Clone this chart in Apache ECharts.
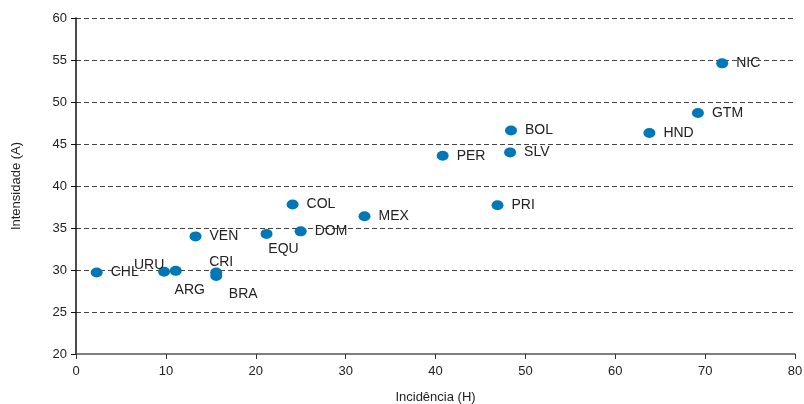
<!DOCTYPE html>
<html>
<head>
<meta charset="utf-8">
<script src="https://cdn.jsdelivr.net/npm/echarts@6/dist/echarts.min.js"></script>
<style>
html,body{margin:0;padding:0;background:#fff;}
#chart{width:804px;height:404px;}
</style>
</head>
<body>
<div id="chart"></div>
<script>
var countries = ['CHL','URU','ARG','CRI','BRA','VEN','EQU','DOM','COL','MEX','PRI','PER','SLV','BOL','HND','GTM','NIC'];
var incidencia = [2.3, 9.8, 11.1, 15.6, 15.6, 13.3, 21.2, 25.0, 24.1, 32.1, 46.9, 40.8, 48.3, 48.4, 63.8, 69.2, 71.9];
var intensidade = [29.7, 29.8, 29.9, 29.7, 29.3, 34.0, 34.3, 34.6, 37.8, 36.4, 37.7, 43.6, 44.0, 46.6, 46.3, 48.7, 54.6];
var xTicks = [0, 10, 20, 30, 40, 50, 60, 70, 80];
var yTicks = [20, 25, 30, 35, 40, 45, 50, 55, 60];

// label placement (styling only)
var labelOffsets = {
  URU: [-15, -7],
  ARG: [14, 19],
  CRI: [5, -10],
  BRA: [27, 18],
  EQU: [17, 15]
};

var data = countries.map(function (c, i) {
  var item = { name: c, value: [incidencia[i], intensidade[i]] };
  var o = labelOffsets[c];
  if (o) {
    item.label = { position: 'inside', offset: [o[0], o[1]], align: 'center' };
  }
  return item;
});

var chart = echarts.init(document.getElementById('chart'));
chart.setOption({
  animation: false,
  textStyle: { fontFamily: 'Liberation Sans, Arial, sans-serif' },
  grid: { left: 76, right: 9, top: 18, bottom: 50, containLabel: false, outerBoundsMode: 'none' },
  xAxis: {
    type: 'value', min: xTicks[0], max: xTicks[xTicks.length - 1], interval: 10,
    name: 'Incidência (H)', nameLocation: 'middle', nameGap: 37,
    nameTextStyle: { fontSize: 13, color: '#222' },
    axisLine: { show: true, onZero: false, lineStyle: { color: '#555', width: 1.5 } },
    axisTick: { show: true, inside: false, length: 5, lineStyle: { color: '#333' } },
    axisLabel: { fontSize: 13, color: '#222', margin: 11 },
    splitLine: { show: false },
    z: 5
  },
  yAxis: {
    type: 'value', min: yTicks[0], max: yTicks[yTicks.length - 1], interval: 5,
    name: 'Intensidade (A)', nameLocation: 'middle', nameGap: 53, nameRotate: 90,
    nameTextStyle: { fontSize: 13, color: '#222' },
    axisLine: { show: true, onZero: false, lineStyle: { color: '#111', width: 1.5 } },
    axisTick: { show: true, inside: false, length: 5, lineStyle: { color: '#111' } },
    axisLabel: { fontSize: 13, color: '#222', margin: 9 },
    splitLine: {
      show: true,
      showMinLine: false,
      lineStyle: { type: [5, 3], color: '#444', width: 1 }
    }
  },
  series: [{
    type: 'scatter',
    symbol: 'circle',
    symbolSize: [12, 10],
    itemStyle: { color: '#0077b7', opacity: 1 },
    label: {
      show: true,
      position: 'right',
      distance: 8,
      formatter: '{b}',
      fontSize: 14,
      color: '#222'
    },
    data: data
  }]
});
</script>
</body>
</html>
